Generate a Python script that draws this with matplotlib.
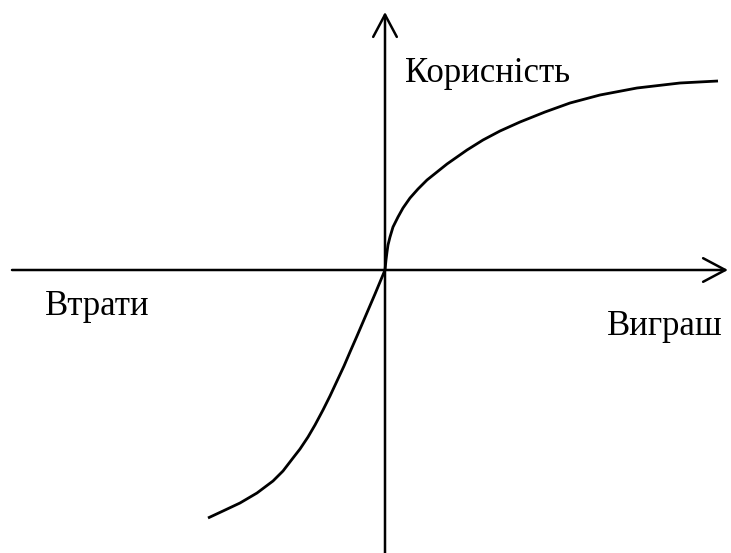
#!/usr/bin/env python
# value function sketch: utility vs gains / losses
import matplotlib
matplotlib.use('Agg')
import matplotlib.pyplot as plt

# curve points, origin at the axes crossing
gain_x = [0, 1, 2, 3, 5, 8, 13, 18, 25, 33, 42, 52, 62, 72, 82, 98, 115, 135, 160, 185, 215, 252, 295, 333]
gain_y = [0, 10, 18, 25, 33, 43, 53, 62, 72, 81, 90, 98, 106, 113, 120, 130, 139, 148, 158, 167, 175, 182, 187, 189]

loss_x = [0, -5, -10, -16, -22, -28, -35, -41, -48, -55, -62, -70, -77, -85, -92,
          -102, -112, -128, -145, -162, -177]
loss_y = [0, -12, -24, -38, -52, -66, -82, -96, -111, -126, -140, -155, -167, -179, -188,
          -201, -211, -223, -233, -241, -248]

labels = {'utility': 'Корисність', 'loss': 'Втрати', 'gain': 'Виграш'}

fig = plt.figure(figsize=(7.31, 5.53), dpi=100)
ax = fig.add_axes([0, 0, 1, 1])
ax.set_xlim(-385, 346)
ax.set_ylim(-283, 270)
ax.axis('off')

arrow = dict(arrowstyle='->,head_length=1.6,head_width=0.85', lw=1.8,
             color='black', mutation_scale=10, shrinkA=0, shrinkB=0)
ax.annotate('', xy=(343, 0), xytext=(-373, 0), arrowprops=arrow)
ax.annotate('', xy=(0, 258), xytext=(0, -283), arrowprops=arrow)

ax.plot(gain_x, gain_y, color='black', lw=2.0, solid_capstyle='butt', solid_joinstyle='round')
ax.plot(loss_x, loss_y, color='black', lw=2.0, solid_capstyle='butt', solid_joinstyle='round')

font = dict(family='Liberation Serif', size=25, color='black', va='baseline', ha='left')
ax.text(20, 188, labels['utility'], **font)
ax.text(-340, -45, labels['loss'], **font)
ax.text(222, -65, labels['gain'], **font)

fig.savefig('out.png', dpi=100)
